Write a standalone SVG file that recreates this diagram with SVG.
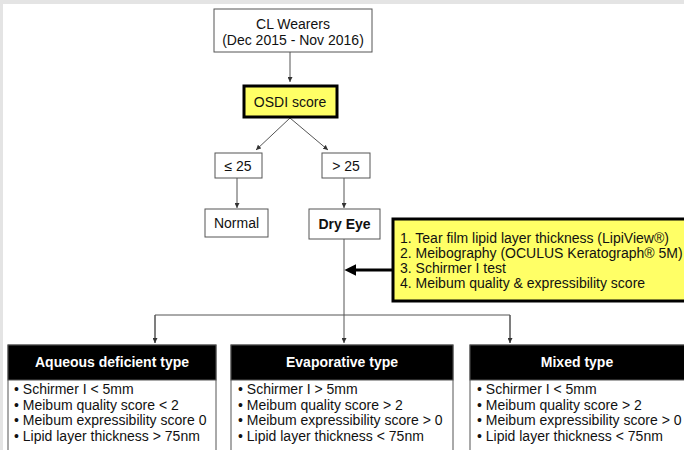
<svg xmlns="http://www.w3.org/2000/svg" width="684" height="450" viewBox="0 0 684 450">
<defs>
<marker id="ah" viewBox="0 0 6 6" refX="6" refY="3" markerWidth="5" markerHeight="5" markerUnits="userSpaceOnUse" orient="auto">
<path d="M0,0 L6,3 L0,6 z" fill="#333"/>
</marker>
<marker id="ahb" viewBox="0 0 10 10" refX="2" refY="5" markerWidth="4" markerHeight="4" orient="auto">
<path d="M0,0 L10,5 L0,10 z" fill="#000"/>
</marker>
</defs>
<style>
text{font-family:"Liberation Sans",Arial,sans-serif;font-size:14px;fill:#111}
.c{text-anchor:middle}
.b{font-weight:bold}
.w{fill:#fff;font-weight:bold}
.box{fill:#fff;stroke:#555;stroke-width:1}
.yel{fill:#ffff66;stroke:#000;stroke-width:3}
.hdr{fill:#000;stroke:#555;stroke-width:1}
.ln{fill:none;stroke:#555;stroke-width:1}
</style>
<rect x="0" y="0" width="684" height="450" fill="#fff"/>
<rect x="0" y="0" width="684" height="4" fill="#e4e4e4"/>
<rect x="0" y="0" width="3" height="450" fill="#e4e4e4"/>
<g id="connectors">
<path class="ln" d="M290,52 V82" marker-end="url(#ah)"/>
<path class="ln" d="M290,118 L256,150" marker-end="url(#ah)"/>
<path class="ln" d="M290,118 L328,150" marker-end="url(#ah)"/>
<path class="ln" d="M237,178 V208" marker-end="url(#ah)"/>
<path class="ln" d="M344,178 V208" marker-end="url(#ah)"/>
<path class="ln" d="M344,239 V343" marker-end="url(#ah)"/>
<path class="ln" d="M155,343 V315 H510 V343" />
<path class="ln" d="M155,315 V343" marker-end="url(#ah)"/>
<path class="ln" d="M510,315 V343" marker-end="url(#ah)"/>
<path d="M392,270 H354" fill="none" stroke="#000" stroke-width="3" marker-end="url(#ahb)"/>
</g>
<g id="cl-wearers">
<rect class="box" x="214" y="9" width="158" height="43"/>
<text class="c" x="293" y="29">CL Wearers</text>
<text class="c" x="293" y="45">(Dec 2015 - Nov 2016)</text>
</g>
<g id="osdi">
<rect class="yel" x="244" y="86" width="93" height="31"/>
<text class="c" x="290" y="107">OSDI score</text>
</g>
<g id="le25">
<rect class="box" x="215" y="153" width="47" height="25"/>
<text class="c" x="238" y="171">≤ 25</text>
</g>
<g id="gt25">
<rect class="box" x="322" y="153" width="48" height="25"/>
<text class="c" x="346" y="171">&gt; 25</text>
</g>
<g id="normal">
<rect class="box" x="205" y="209" width="63" height="28"/>
<text class="c" x="236.5" y="228">Normal</text>
</g>
<g id="dry-eye">
<rect class="box" x="309" y="209" width="71" height="30"/>
<text class="c b" x="344.5" y="229">Dry Eye</text>
</g>
<g id="tests">
<rect class="yel" x="393" y="219" width="295" height="82"/>
<text x="400" y="243">1. Tear film lipid layer thickness (LipiView®)</text>
<text x="400" y="258">2. Meibography (OCULUS Keratograph® 5M)</text>
<text x="400" y="273">3. Schirmer I test</text>
<text x="400" y="288">4. Meibum quality &amp; expressibility score</text>
</g>
<g id="aqueous">
<rect class="box" x="8" y="345" width="208" height="120"/>
<rect class="hdr" x="8" y="345" width="208" height="35"/>
<text class="c w" x="112" y="367">Aqueous deficient type</text>
<text x="14" y="394">• Schirmer I &lt; 5mm</text>
<text x="14" y="410">• Meibum quality score &lt; 2</text>
<text x="14" y="425">• Meibum expressibility score 0</text>
<text x="14" y="441">• Lipid layer thickness &gt; 75nm</text>
</g>
<g id="evaporative">
<rect class="box" x="231" y="345" width="222" height="120"/>
<rect class="hdr" x="231" y="345" width="222" height="35"/>
<text class="c w" x="342" y="367">Evaporative type</text>
<text x="238" y="394">• Schirmer I &gt; 5mm</text>
<text x="238" y="410">• Meibum quality score &gt; 2</text>
<text x="238" y="425">• Meibum expressibility score &gt; 0</text>
<text x="238" y="441">• Lipid layer thickness &lt; 75nm</text>
</g>
<g id="mixed">
<rect class="box" x="470" y="345" width="230" height="120"/>
<rect class="hdr" x="470" y="345" width="230" height="35"/>
<text class="c w" x="577" y="367">Mixed type</text>
<text x="477" y="394">• Schirmer I &lt; 5mm</text>
<text x="477" y="410">• Meibum quality score &gt; 2</text>
<text x="477" y="425">• Meibum expressibility score &gt; 0</text>
<text x="477" y="441">• Lipid layer thickness &lt; 75nm</text>
</g>
</svg>
